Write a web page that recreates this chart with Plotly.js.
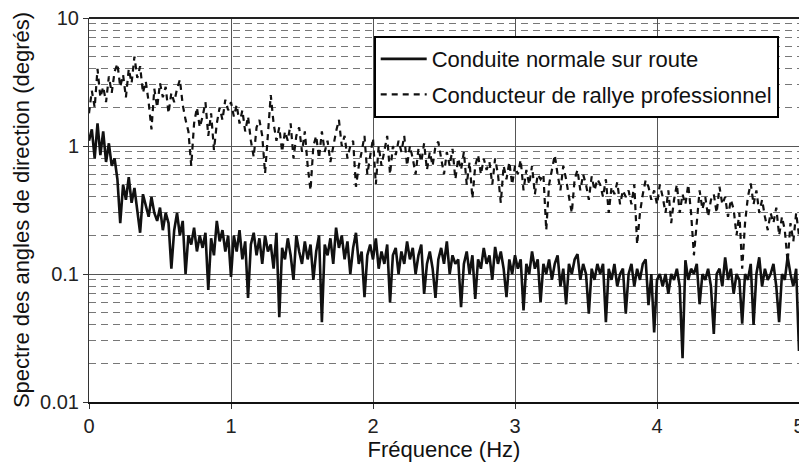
<!DOCTYPE html>
<html>
<head>
<meta charset="utf-8">
<script src="https://cdn.plot.ly/plotly-3.0.1.min.js"></script>
<style>html,body{margin:0;padding:0;background:#fff;}#chart{width:799px;height:464px;}</style>
</head>
<body>
<div id="chart"></div>
<script>
// Frequency sampling (Hz): start and step of the spectra
const freqStart = 0;
const freqStep = 0.02;

// Conduite normale sur route (degrés)
const normale = [
  1.1, 1.35, 0.8, 1.5, 0.85, 1.3, 0.75, 1.05, 0.7, 0.8,
  0.55, 0.25, 0.5, 0.38, 0.57, 0.36, 0.47, 0.3, 0.21, 0.42,
  0.35, 0.28, 0.4, 0.3, 0.26, 0.33, 0.22, 0.3, 0.25, 0.11,
  0.22, 0.3, 0.2, 0.26, 0.1, 0.2, 0.17, 0.23, 0.15, 0.2,
  0.16, 0.21, 0.075, 0.19, 0.14, 0.26, 0.18, 0.22, 0.15, 0.2,
  0.095, 0.2, 0.15, 0.22, 0.13, 0.18, 0.065, 0.17, 0.21, 0.14,
  0.19, 0.12, 0.2, 0.15, 0.17, 0.11, 0.21, 0.046, 0.16, 0.13,
  0.19, 0.14, 0.09, 0.2, 0.15, 0.12, 0.18, 0.13, 0.17, 0.09,
  0.15, 0.2, 0.042, 0.17, 0.14, 0.19, 0.12, 0.23, 0.16, 0.2,
  0.13, 0.18, 0.1, 0.16, 0.21, 0.12, 0.15, 0.066, 0.14, 0.17,
  0.13, 0.19, 0.11, 0.15, 0.12, 0.17, 0.06, 0.14, 0.16, 0.1,
  0.15, 0.12, 0.18, 0.13, 0.16, 0.1, 0.14, 0.17, 0.07, 0.12,
  0.15, 0.11, 0.065, 0.13, 0.16, 0.12, 0.18, 0.1, 0.14, 0.12,
  0.13, 0.055, 0.12, 0.15, 0.1, 0.14, 0.064, 0.13, 0.11, 0.16,
  0.12, 0.14, 0.09, 0.163, 0.12, 0.15, 0.11, 0.066, 0.13, 0.1,
  0.14, 0.11, 0.13, 0.052, 0.12, 0.1, 0.15, 0.11, 0.13, 0.06,
  0.12, 0.1, 0.13, 0.09, 0.12, 0.14, 0.08, 0.11, 0.058, 0.12,
  0.1, 0.13, 0.143, 0.09, 0.12, 0.1, 0.049, 0.11, 0.09, 0.12,
  0.1, 0.12, 0.042, 0.11, 0.09, 0.12, 0.08, 0.1, 0.11, 0.049,
  0.1, 0.12, 0.08, 0.11, 0.09, 0.12, 0.13, 0.057, 0.1, 0.035,
  0.09, 0.1, 0.08, 0.1, 0.07, 0.1, 0.09, 0.11, 0.08, 0.022,
  0.128, 0.09, 0.11, 0.1, 0.12, 0.058, 0.1, 0.09, 0.11, 0.08,
  0.034, 0.1, 0.11, 0.08, 0.135, 0.09, 0.11, 0.07, 0.1, 0.09,
  0.041, 0.1, 0.09, 0.12, 0.04, 0.1, 0.135, 0.08, 0.11, 0.09,
  0.1, 0.12, 0.08, 0.042, 0.1, 0.09, 0.136, 0.1, 0.08, 0.11,
  0.025
];

// Conducteur de rallye professionnel (degrés)
const rallye = [
  1.8, 2.7, 2.0, 4.0, 2.4, 2.9, 2.2, 3.5, 2.6, 3.8,
  4.4, 2.9, 3.6, 2.4, 4.0, 3.1, 5.0, 3.4, 4.2, 2.6,
  3.2, 2.2, 1.35, 2.8, 2.0, 3.1, 2.4, 2.9, 1.8, 2.6,
  2.2, 2.8, 3.3, 2.1, 1.6, 1.3, 0.7, 1.5, 2.0, 1.4,
  1.7, 2.2, 1.2, 1.8, 0.93, 1.5, 2.0, 1.6, 2.3, 1.9,
  2.2, 1.7, 2.1, 1.5, 1.9, 1.3, 1.7, 1.1, 0.82, 1.4,
  1.6, 1.2, 0.61, 1.3, 2.5, 1.5, 1.1, 1.4, 0.9, 1.3,
  1.1, 1.5, 0.8, 1.2, 1.4, 0.9, 1.3, 0.7, 0.45, 1.0,
  1.2, 0.8, 1.3, 0.9, 1.1, 0.75, 1.0, 1.3, 1.6, 1.0,
  1.2, 0.8, 1.0, 1.1, 0.48, 0.7, 0.9, 1.2, 0.6, 0.85,
  1.15, 0.5, 1.0, 0.7, 0.9, 1.2, 0.6, 1.0, 0.85, 1.1,
  0.9, 1.2, 0.7, 1.0, 0.8, 0.6, 0.95, 0.75, 1.05, 0.65,
  0.9, 0.7, 1.0, 1.08, 0.8, 0.6, 0.9, 0.7, 0.95, 0.55,
  0.8, 0.65, 0.9, 0.5, 0.75, 0.39, 0.7, 0.85, 0.6, 0.8,
  0.65, 0.75, 0.5, 0.8, 0.6, 0.36, 0.7, 0.55, 0.75, 0.5,
  0.7, 0.6, 0.78, 0.45, 0.65, 0.5, 0.7, 0.42, 0.6, 0.55,
  0.6, 0.22, 0.5, 0.65, 0.85, 0.6, 0.45, 0.7, 0.55, 0.4,
  0.3, 0.55, 0.65, 0.45, 0.6, 0.5, 0.38, 0.58, 0.45, 0.55,
  0.5, 0.4, 0.55, 0.3, 0.48, 0.42, 0.52, 0.35, 0.45, 0.4,
  0.45, 0.35, 0.5, 0.17, 0.3, 0.42, 0.54, 0.48, 0.38, 0.45,
  0.35, 0.5, 0.4, 0.3, 0.45, 0.25, 0.38, 0.5, 0.3, 0.42,
  0.35, 0.5, 0.3, 0.14, 0.25, 0.45, 0.32, 0.4, 0.28, 0.38,
  0.42, 0.3, 0.48, 0.35, 0.4, 0.28, 0.38, 0.32, 0.2, 0.3,
  0.11, 0.25, 0.4, 0.51, 0.35, 0.45, 0.3, 0.38, 0.28, 0.22,
  0.3, 0.25, 0.33, 0.2, 0.28, 0.22, 0.124, 0.25, 0.18, 0.3,
  0.2
];

const seriesNames = ["Conduite normale sur route", "Conducteur de rallye professionnel"];
const xTickVals = [0, 1, 2, 3, 4, 5];
const xTickText = ["0", "1", "2", "3", "4", "5"];
const yTickVals = [0.01, 0.1, 1, 10];
const yTickText = ["0.01", "0.1", "1", "10"];
const yMinorVals = [0.02, 0.03, 0.04, 0.05, 0.06, 0.07, 0.08, 0.09,
                    0.2, 0.3, 0.4, 0.5, 0.6, 0.7, 0.8, 0.9,
                    2, 3, 4, 5, 6, 7, 8, 9];

const FONT = "Liberation Sans, Arial, sans-serif";

const traces = [
  {
    type: "scatter", mode: "lines", name: seriesNames[0],
    x0: freqStart, dx: freqStep, y: normale,
    line: {color: "#111", width: 2.6},
    legendgroup: "a"
  },
  {
    type: "scatter", mode: "lines", name: seriesNames[1],
    x0: freqStart, dx: freqStep, y: rallye,
    line: {color: "#111", width: 2.2, dash: "6px,5px"},
    legendgroup: "b"
  }
];

const layout = {
  width: 799, height: 464,
  margin: {l: 89, r: 0, t: 18, b: 62},
  paper_bgcolor: "#fff", plot_bgcolor: "#fff",
  font: {family: FONT, color: "#111", size: 16},
  showlegend: true,
  legend: {
    x: 0.401, y: 0.953, xanchor: "left", yanchor: "top",
    bgcolor: "#fff", bordercolor: "#000", borderwidth: 2,
    font: {family: FONT, size: 22, color: "#111"},
    traceorder: "grouped", tracegroupgap: 4, itemwidth: 46
  },
  xaxis: {
    range: [0, 5], tickvals: xTickVals, ticktext: xTickText,
    showgrid: true, gridcolor: "#555", gridwidth: 1,
    zeroline: false, showline: true, linecolor: "#111", linewidth: 2,
    ticks: "outside", ticklen: 5, tickcolor: "#333",
    tickfont: {size: 20, color: "#222"},
    ticklabeloverflow: "allow",
    title: {text: "Fréquence (Hz)", font: {size: 22, color: "#111"}, standoff: 2},
    mirror: false
  },
  yaxis: {
    type: "log", range: [-2, 1], tickvals: yTickVals, ticktext: yTickText,
    showgrid: true, gridcolor: "#555", gridwidth: 1,
    zeroline: false, showline: true, linecolor: "#333", linewidth: 1,
    ticks: "outside", ticklen: 5, tickcolor: "#333",
    tickfont: {size: 20, color: "#222"},
    title: {text: "Spectre des angles de direction (degrés)", font: {size: 22, color: "#111"}, standoff: 4},
    minor: {tickvals: yMinorVals, showgrid: true, gridcolor: "#777", gridwidth: 1, griddash: "7px,5px", ticks: ""}
  },
  shapes: [
    {type: "line", xref: "paper", yref: "paper", x0: 0, x1: 1, y0: 1, y1: 1, line: {color: "#222", width: 2}}
  ]
};

Plotly.newPlot("chart", traces, layout, {staticPlot: true, displayModeBar: false});
</script>
</body>
</html>
